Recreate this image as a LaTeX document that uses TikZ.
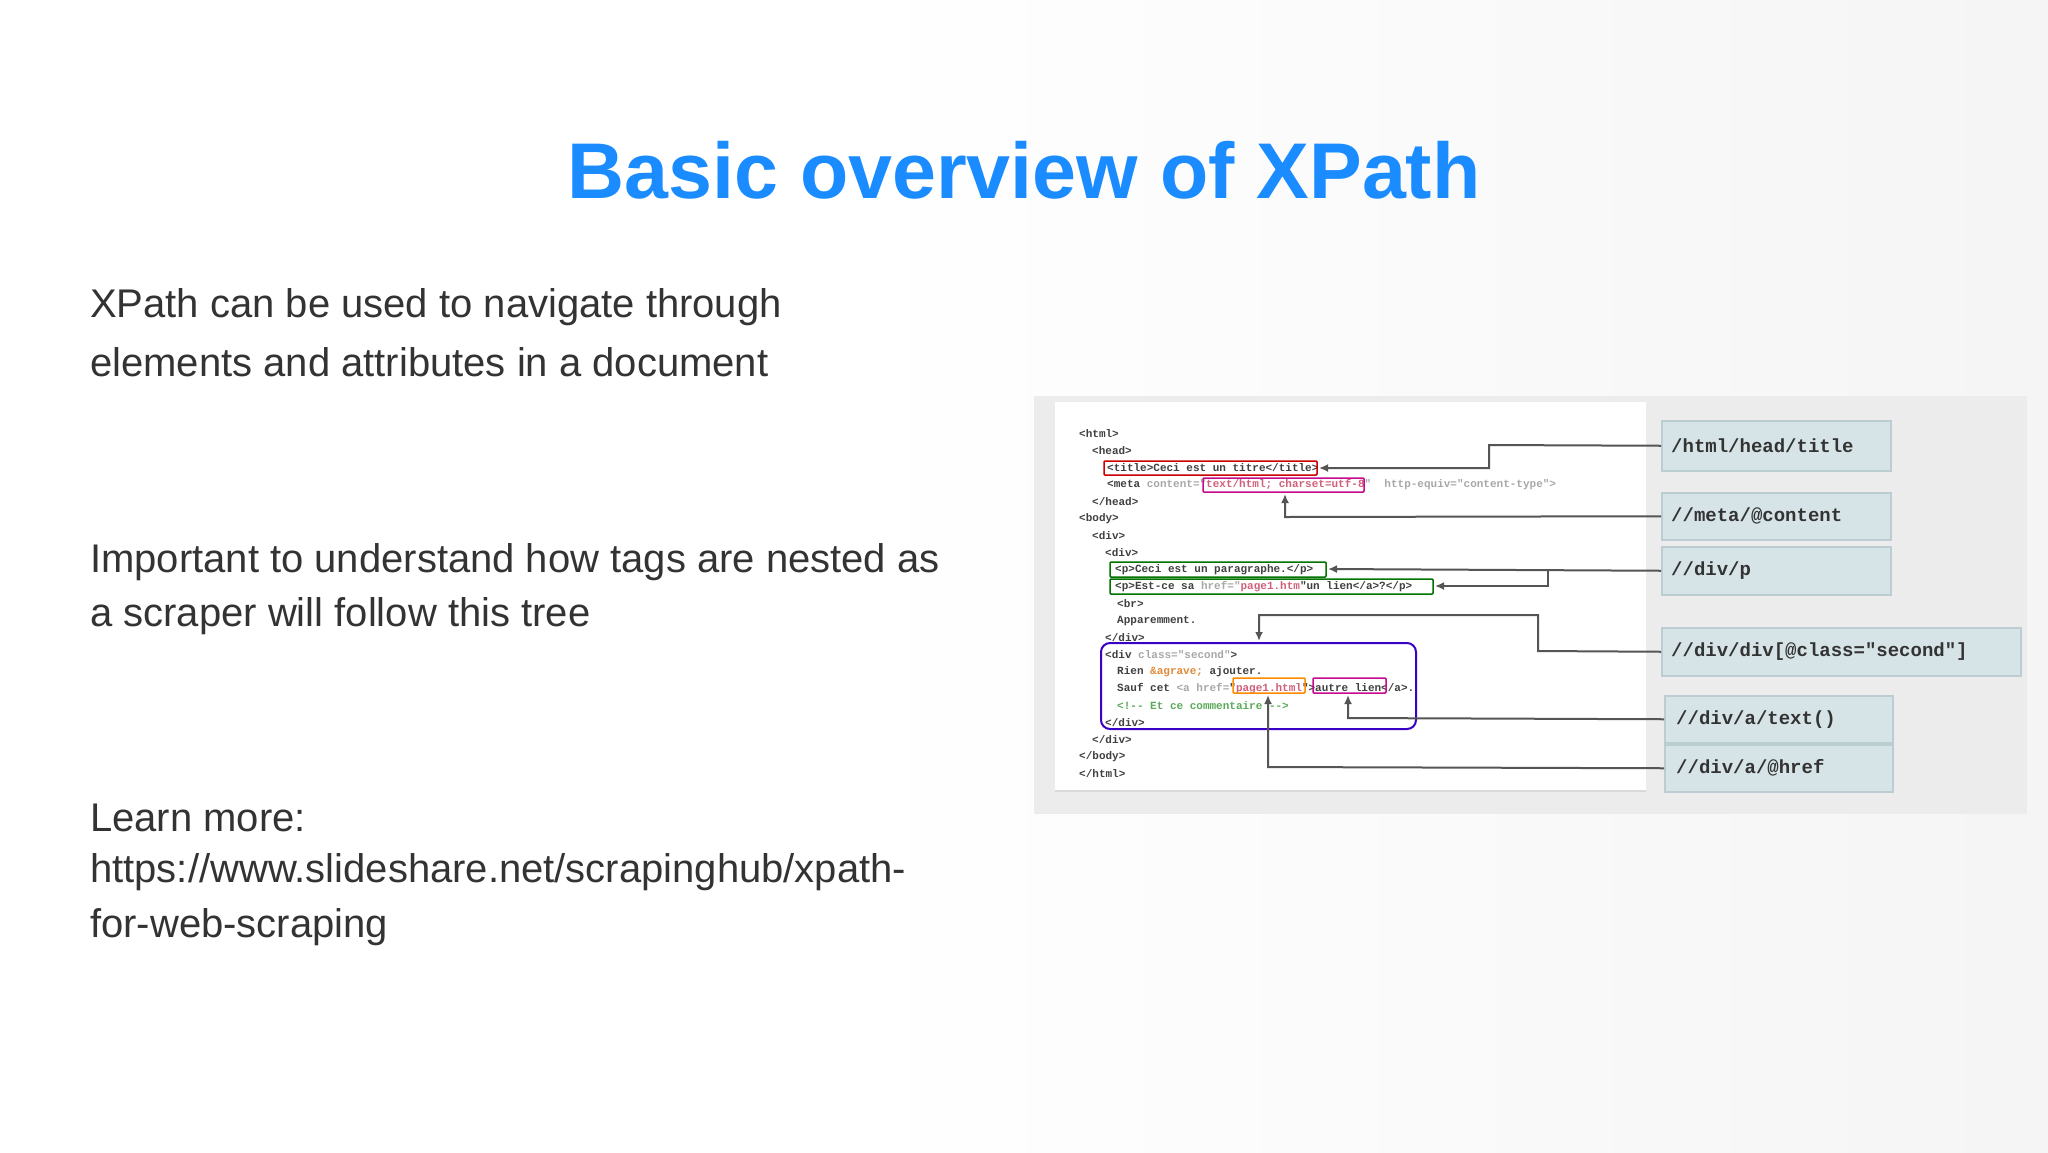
\documentclass[tikz,border=0pt]{standalone}
\usepackage{fontspec}
\setmainfont{Liberation Sans}
\newfontfamily\codefont{Liberation Mono}
\newfontfamily\boxfont{Liberation Mono}
\definecolor{titleblue}{HTML}{1A8CFF}
\definecolor{bodytxt}{HTML}{333333}
\definecolor{panel}{HTML}{ECECEC}
\definecolor{xbox}{HTML}{D6E4E7}
\definecolor{xboxline}{HTML}{BCCDD1}
\definecolor{conn}{HTML}{555555}
\definecolor{attr}{HTML}{A8A8A8}
\definecolor{valc}{HTML}{D0607A}
\definecolor{comm}{HTML}{5AAA5A}
\definecolor{orng}{HTML}{E08A3A}
\tikzset{
 body/.style={anchor=west,inner sep=0pt,text=bodytxt,font=\fontsize{40}{44}\selectfont},
 code/.style={anchor=west,inner sep=0pt,text=black!75,font=\codefont\bfseries\fontsize{11}{12}\selectfont},
 xpbox/.style={draw=xboxline,fill=xbox,line width=1.5pt,anchor=north west,inner sep=0pt},
 xptext/.style={anchor=west,inner sep=0pt,font=\boxfont\bfseries\fontsize{19}{22}\selectfont,text=black!80},
 hl/.style={line width=1.5pt,rounded corners=1pt},
 con/.style={draw=conn,line width=2pt},
 arr/.style={con,-{Latex[length=9pt,width=8pt]}}
}
\usetikzlibrary{arrows.meta}
\begin{document}
\begin{tikzpicture}[x=1pt,y=-1pt]
\useasboundingbox (0,0) rectangle (2048,1152);
\shade[left color=white,right color=black!4] (850,0) rectangle (2048,1152);
\node[text=titleblue,font=\bfseries\fontsize{79}{90}\selectfont,inner sep=0pt] (title) at (1024,170) {Basic overview of XPath};
\node[body] (t1) at (90,307) {XPath can be used to navigate through};
\node[body] (t2) at (90,362) {elements and attributes in a document};
\node[body] (t3) at (90,562) {Important to understand how tags are nested as};
\node[body] (t4) at (90,616) {a scraper will follow this tree};
\node[body] (t5) at (90,818) {Learn more:};
\node[body] (t6) at (90,872) {https://www.slideshare.net/scrapinghub/xpath-};
\node[body] (t7) at (90,927) {for-web-scraping};
% panel
\fill[panel] (1034,396) rectangle (2027,814);
\fill[white] (1055,402) rectangle (1646,790);
\draw[black!15,line width=2pt] (1055,791) -- (1646,791);
% code
\node[code] (c0) at (1079,434) {<html>};
\node[code] (c1) at (1092,451) {<head>};
\node[code] (c2) at (1107,468) {<title>Ceci est un titre</title>};
\node[code] (c3) at (1107,485) {<meta \textcolor{attr}{content="}\textcolor{valc}{text/html; charset=utf-8}\textcolor{attr}{"\ \ http-equiv="content-type">}};
\node[code] (c4) at (1092,502) {</head>};
\node[code] (c5) at (1079,519) {<body>};
\node[code] (c6) at (1092,536) {<div>};
\node[code] (c7) at (1105,553) {<div>};
\node[code] (c8) at (1115,570) {<p>Ceci est un paragraphe.</p>};
\node[code] (c9) at (1115,587) {<p>Est-ce sa \textcolor{attr}{href="}\textcolor{valc}{page1.htm}"un lien</a>?</p>};
\node[code] (c10) at (1117,604) {<br>};
\node[code] (c11) at (1117,621) {Apparemment.};
\node[code] (c12) at (1105,638) {</div>};
\node[code] (c13) at (1105,655) {<div \textcolor{attr}{class="second"}>};
\node[code] (c14) at (1117,672) {Rien \textcolor{orng}{\&agrave;} ajouter.};
\node[code] (c15) at (1117,689) {Sauf cet \textcolor{attr}{<a href=}"\textcolor{valc}{page1.html}">autre lien</a>.};
\node[code] (c16) at (1117,706) {\textcolor{comm}{<!{-}{-} Et ce commentaire {-}{-}>}};
\node[code] (c17) at (1105,723) {</div>};
\node[code] (c18) at (1092,740) {</div>};
\node[code] (c19) at (1079,757) {</body>};
\node[code] (c20) at (1079,774) {</html>};
% highlights
\draw[hl,draw=red!80!black] (1104,461) rectangle (1317,475);
\draw[hl,draw=magenta!80!blue] (1203,478) rectangle (1364,492);
\draw[hl,draw=green!45!black] (1110,562) rectangle (1326,577);
\draw[hl,draw=green!45!black] (1110,579) rectangle (1433,594);
\draw[line width=2pt,draw=blue!55!violet,rounded corners=9pt] (1101,643) rectangle (1416,729);
\draw[hl,draw=orange!90!yellow] (1233,678) rectangle (1305,693);
\draw[hl,draw=magenta!80!blue] (1313,678) rectangle (1386,693);
\coordinate (aT) at (1319,468);
\coordinate (aM) at (1285,494);
\coordinate (aP1) at (1328,569);
\coordinate (aP2) at (1435,586);
\coordinate (aD) at (1259,641);
\coordinate (aX) at (1348,695);
\coordinate (aH) at (1268,695);
% boxes
\node[xpbox,minimum width=229pt,minimum height=50pt] (b1) at (1661,420) {};
\node[xptext] at ([xshift=10pt]b1.west) {/html/head/title};
\node[xpbox,minimum width=229pt,minimum height=47pt] (b2) at (1661,492) {};
\node[xptext] at ([xshift=10pt]b2.west) {//meta/@content};
\node[xpbox,minimum width=229pt,minimum height=48pt] (b3) at (1661,546) {};
\node[xptext] at ([xshift=10pt]b3.west) {//div/p};
\node[xpbox,minimum width=359pt,minimum height=48pt] (b4) at (1661,627) {};
\node[xptext] at ([xshift=10pt]b4.west) {//div/div[@class="second"]};
\node[xpbox,minimum width=228pt,minimum height=47pt] (b5) at (1664,695) {};
\node[xptext] at ([xshift=12pt]b5.west) {//div/a/text()};
\node[xpbox,minimum width=228pt,minimum height=47pt] (b6) at (1664,744) {};
\node[xptext] at ([xshift=12pt]b6.west) {//div/a/@href};
% connectors
\draw[arr] (b1.west) -- (1489,445) -- (1489,468) -- (aT);
\draw[arr] (b2.west) -- (1285,517) -- (aM);
\draw[arr] (b3.west) -- (aP1);
\draw[arr] (1548,570) -- (1548,586) -- (aP2);
\draw[arr] (b4.west) -- (1538,651) -- (1538,615) -- (1259,615) -- (aD);
\draw[arr] (b5.west) -- (1348,718) -- (aX);
\draw[arr] (b6.west) -- (1268,767) -- (aH);
\end{tikzpicture}
\end{document}
